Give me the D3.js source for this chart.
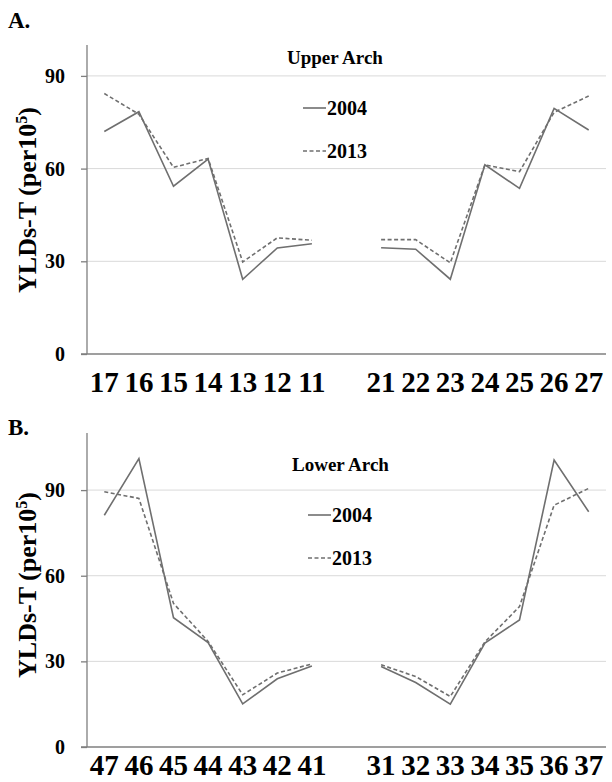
<!DOCTYPE html>
<meta charset="utf-8">
<script src="https://d3js.org/d3.v7.min.js"></script>
<style>
  body { margin: 0; background: #fff; }
  text { font-family: "Liberation Serif", "Times New Roman", serif; font-weight: bold; fill: #000; }
</style>
<svg id="chart" width="612" height="782"></svg>
<script>

// teeth on the x axis (the empty slot is the gap between the two halves)
const upperTeeth = ["17","16","15","14","13","12","11","gap","21","22","23","24","25","26","27"];
const lowerTeeth = ["47","46","45","44","43","42","41","gap","31","32","33","34","35","36","37"];

// YLDs-T values
const upper2004 = [72.0, 78.4, 54.3, 63.1, 24.2, 34.3, 35.7, null, 34.4, 33.9, 24.2, 61.2, 53.6, 79.5, 72.5];
const upper2013 = [84.3, 77.6, 60.4, 63.3, 29.8, 37.6, 36.8, null, 37.0, 37.0, 29.5, 61.2, 59.0, 78.2, 83.5];
const lower2004 = [81.2, 101.0, 45.3, 36.6, 15.1, 23.9, 28.4, null, 28.2, 22.6, 15.0, 36.4, 44.5, 100.5, 82.4];
const lower2013 = [89.4, 87.1, 50.3, 37.0, 18.3, 25.9, 29.1, null, 28.8, 24.7, 17.7, 36.8, 49.2, 84.7, 90.6];

const yTicks = [0, 30, 60, 90];

const svg = d3.select("#chart");
const grey = "#6f6f6f";

function drawPanel(opt) {
  const x = d3.scalePoint()
    .domain(opt.teeth)
    .range([87, 606])
    .padding(0.5);

  const y = d3.scaleLinear()
    .domain([0, opt.yMax])
    .range([opt.bottom, opt.top]);

  const g = svg.append("g");

  // panel letter
  g.append("text")
    .attr("x", 8)
    .attr("y", opt.letterY)
    .style("font-size", "23px")
    .text(opt.letter);

  // gridlines
  g.selectAll(".grid")
    .data(yTicks.filter(d => d > 0))
    .join("line")
      .attr("x1", 87).attr("x2", 606)
      .attr("y1", d => y(d)).attr("y2", d => y(d))
      .attr("stroke", "#d9d9d9")
      .attr("stroke-width", 1);

  // y axis with short outside ticks, and the baseline
  g.append("g")
    .attr("transform", "translate(87,0)")
    .call(d3.axisLeft(y).tickValues(yTicks).tickSize(6).tickFormat(""))
    .call(a => a.select(".domain").attr("d", `M-0,${y(opt.yMax)}V${y(0)}`))
    .call(a => a.selectAll("path, line").attr("stroke", "#7f7f7f").attr("stroke-width", 1.3));
  g.append("line")
    .attr("x1", 81).attr("x2", 606)
    .attr("y1", y(0)).attr("y2", y(0))
    .attr("stroke", "#7f7f7f").attr("stroke-width", 1.3);

  // y tick labels
  g.selectAll(".ytick")
    .data(yTicks)
    .join("text")
      .attr("x", 65)
      .attr("y", d => y(d))
      .attr("dy", "0.35em")
      .attr("text-anchor", "end")
      .style("font-size", "20px")
      .text(d => d);

  // x tick labels
  g.selectAll(".xtick")
    .data(opt.teeth.filter(d => d !== "gap"))
    .join("text")
      .attr("x", d => x(d))
      .attr("y", opt.labelY)
      .attr("text-anchor", "middle")
      .style("font-size", "29px")
      .text(d => d);

  // y axis title
  const t = g.append("text")
    .attr("transform", `translate(36, ${opt.titleY}) rotate(-90)`)
    .attr("text-anchor", "middle")
    .style("font-size", "26px");
  t.append("tspan").text("YLDs-T (per10");
  t.append("tspan").attr("dy", -9).style("font-size", "16px").text("5");
  t.append("tspan").attr("dy", 9).text(")");

  // lines
  const line = d3.line()
    .defined(d => d.v !== null)
    .x(d => x(d.k))
    .y(d => y(d.v));

  [[opt.s2004, null], [opt.s2013, "4,2.5"]].forEach(([vals, dash]) => {
    g.append("path")
      .datum(opt.teeth.map((k, i) => ({k: k, v: vals[i]})))
      .attr("d", line)
      .attr("fill", "none")
      .attr("stroke", grey)
      .attr("stroke-width", 1.6)
      .attr("stroke-dasharray", dash);
  });

  // legend
  g.append("text")
    .attr("x", opt.legX)
    .attr("y", opt.legY)
    .style("font-size", "19px")
    .text(opt.arch);

  [["2004", null, 0], ["2013", "4,2.5", 43]].forEach(([lab, dash, off]) => {
    const ly = opt.legY + 44 + off;
    g.append("line")
      .attr("x1", opt.legX + 16).attr("x2", opt.legX + 39)
      .attr("y1", ly).attr("y2", ly)
      .attr("stroke", grey).attr("stroke-width", 1.6)
      .attr("stroke-dasharray", dash);
    g.append("text")
      .attr("x", opt.legX + 40)
      .attr("y", ly)
      .attr("dy", "0.35em")
      .style("font-size", "20px")
      .text(lab);
  });
}

drawPanel({
  teeth: upperTeeth, s2004: upper2004, s2013: upper2013,
  yMax: 100, top: 45, bottom: 354, labelY: 392, titleY: 200,
  letter: "A.", letterY: 28, arch: "Upper Arch", legX: 287, legY: 64
});

drawPanel({
  teeth: lowerTeeth, s2004: lower2004, s2013: lower2013,
  yMax: 110, top: 433, bottom: 747, labelY: 775, titleY: 585,
  letter: "B.", letterY: 435, arch: "Lower Arch", legX: 292, legY: 471
});
</script>
